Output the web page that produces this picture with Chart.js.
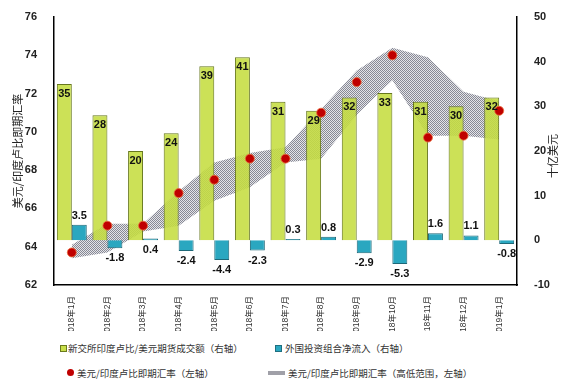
<!DOCTYPE html>
<html>
<head>
<meta charset="utf-8">
<script src="https://cdn.jsdelivr.net/npm/chart.js@4.4.1/dist/chart.umd.min.js"></script>
<style>
  body { margin: 0; background: #fff; }
  #wrap { position: relative; width: 568px; height: 386px; }
  #legend { position: absolute; left: 0; top: 331px; width: 568px; height: 55px; background: #fff;
            font: 9.5px "Noto Sans CJK SC", sans-serif; color: #333; }
  .txt { position: absolute; white-space: nowrap; line-height: 12px; }
  .sw { position: absolute; }
</style>
</head>
<body>
<div id="wrap">
  <canvas id="chart" width="568" height="386"></canvas>
  <div id="legend">
    <div class="sw" style="left:60px;top:14px;width:5px;height:5px;background:#c8de48;border:1px solid #6b7a1e"></div>
    <div class="txt" style="left:68px;top:11px">新交所印度卢比/美元期货成交额（右轴）</div>
    <div class="sw" style="left:275px;top:14px;width:5px;height:5px;background:#2aa7c0;border:1px solid #1f6f80"></div>
    <div class="txt" style="left:285px;top:11px">外国投资组合净流入（右轴）</div>
    <div class="sw" style="left:67px;top:38px;width:7px;height:7px;border-radius:50%;background:#c00000"></div>
    <div class="txt" style="left:77px;top:36px">美元/印度卢比即期汇率（左轴）</div>
    <div class="sw" style="left:268px;top:40px;width:17px;height:4px;background:#a0a0a8"></div>
    <div class="txt" style="left:288px;top:36px">美元/印度卢比即期汇率（高低范围，左轴）</div>
  </div>
</div>
<script>
// Data
const months = ['2018年1月', '2018年2月', '2018年3月', '2018年4月', '2018年5月', '2018年6月',
  '2018年7月', '2018年8月', '2018年9月', '2018年10月', '2018年11月', '2018年12月', '2019年1月'];
const futuresVolume = [35, 28, 20, 24, 39, 41, 31, 29, 32, 33, 31, 30, 32];
const portfolioFlows = [3.5, -1.8, 0.4, -2.4, -4.4, -2.3, 0.3, 0.8, -2.9, -5.3, 1.6, 1.1, -0.8];
const spotRate = [63.7, 65.1, 65.1, 66.8, 67.5, 68.6, 68.6, 71.0, 72.6, 74.0, 69.7, 69.8, 71.1];
const rangeHigh = [64.1, 65.2, 65.2, 66.9, 68.4, 68.9, 69.2, 71.2, 73.2, 74.4, 73.9, 72.1, 71.6];
const rangeLow = [63.4, 63.7, 64.8, 65.1, 66.4, 67.1, 68.4, 68.6, 70.9, 72.7, 69.8, 69.8, 69.6];

const numFont = '"Liberation Sans", Arial, sans-serif';
const cjkFont = '"Liberation Sans", "Noto Sans CJK SC", sans-serif';

// checkered fill for the high/low band
function makePattern() {
    const c = document.createElement('canvas');
    c.width = 2; c.height = 2;
    const g = c.getContext('2d');
    g.fillStyle = '#e4e4e8'; g.fillRect(0, 0, 2, 2);
    g.fillStyle = '#878995'; g.fillRect(0, 0, 1, 1); g.fillRect(1, 1, 1, 1);
    return g.createPattern(c, 'repeat');
}

// value labels on the bars
const barLabels = {
    id: 'barLabels',
    afterDatasetsDraw(chart) {
        const ctx = chart.ctx;
        ctx.save();
        ctx.font = 'bold 11px ' + numFont;
        ctx.fillStyle = '#111';
        ctx.textAlign = 'center';
        ctx.textBaseline = 'middle';
        chart.getDatasetMeta(0).data.forEach((bar, i) => {
            ctx.fillText(futuresVolume[i], bar.x, bar.y + 10);
        });
        chart.getDatasetMeta(1).data.forEach((bar, i) => {
            const v = portfolioFlows[i];
            // the 0.4 label sits under the axis in the original
            const below = v < 0 || i === 2;
            const y = below ? Math.max(bar.y, bar.base) + 10 : bar.y - 9;
            ctx.fillText(v.toFixed(1), bar.x, y);
        });
        ctx.restore();
    }
};

// axis titles, both reading bottom to top
const axisTitles = {
    id: 'axisTitles',
    afterDraw(chart) {
        const ctx = chart.ctx;
        ctx.save();
        ctx.font = '11px "Noto Sans CJK SC", sans-serif';
        ctx.fillStyle = '#222';
        ctx.textAlign = 'center';
        ctx.textBaseline = 'middle';
        ctx.translate(18, 151);
        ctx.rotate(-Math.PI / 2);
        ctx.fillText('美元/印度卢比即期汇率', 0, 0);
        ctx.restore();
        ctx.save();
        ctx.font = '11px "Noto Sans CJK SC", sans-serif';
        ctx.fillStyle = '#222';
        ctx.textAlign = 'center';
        ctx.textBaseline = 'middle';
        ctx.translate(553, 156);
        ctx.rotate(-Math.PI / 2);
        ctx.fillText('十亿美元', 0, 0);
        ctx.restore();
    }
};

const axisBorder = { display: true, color: '#000', width: 1.5 };

new Chart(document.getElementById('chart'), {
    type: 'bar',
    data: {
        labels: months,
        datasets: [
            {
                label: '新交所印度卢比/美元期货成交额（右轴）',
                data: futuresVolume,
                yAxisID: 'y1',
                backgroundColor: 'rgba(197,221,64,0.88)',
                borderColor: '#66771c',
                borderWidth: 1,
                order: 2
            },
            {
                label: '外国投资组合净流入（右轴）',
                data: portfolioFlows,
                yAxisID: 'y1',
                backgroundColor: '#2aa7c0',
                borderColor: '#1d6878',
                borderWidth: 1,
                order: 2
            },
            {
                type: 'line',
                label: '美元/印度卢比即期汇率（左轴）',
                data: spotRate,
                yAxisID: 'y',
                showLine: false,
                pointRadius: 4.5,
                pointBackgroundColor: '#c00000',
                pointBorderColor: 'rgba(235,110,60,0.8)',
                pointBorderWidth: 1,
                order: 0
            },
            {
                type: 'line',
                label: '高',
                data: rangeHigh,
                yAxisID: 'y',
                fill: '+1',
                backgroundColor: makePattern(),
                borderWidth: 0,
                pointRadius: 0,
                tension: 0,
                order: 3
            },
            {
                type: 'line',
                label: '低',
                data: rangeLow,
                yAxisID: 'y',
                fill: false,
                borderWidth: 0,
                pointRadius: 0,
                tension: 0,
                order: 3
            }
        ]
    },
    options: {
        responsive: false,
        animation: false,
        datasets: { bar: { categoryPercentage: 0.84, barPercentage: 1.0 } },
        layout: { padding: { top: 17, left: 0, right: 0, bottom: 0 } },
        plugins: { legend: { display: false }, tooltip: { enabled: false } },
        scales: {
            x: {
                grid: { display: false },
                border: axisBorder,
                ticks: { minRotation: 90, maxRotation: 90, padding: 3, color: '#333',
                         font: { size: 8.5, family: cjkFont } },
                afterFit: s => { s.height = 101; }
            },
            y: {
                position: 'left',
                min: 62, max: 76,
                grid: { display: false },
                border: axisBorder,
                ticks: { stepSize: 2, padding: 9, color: '#222',
                         font: { size: 11, weight: 'bold', family: numFont } },
                afterFit: s => { s.width = 54; }
            },
            y1: {
                position: 'right',
                min: -10, max: 50,
                grid: { display: false },
                border: axisBorder,
                ticks: { stepSize: 10, padding: 9, color: '#222',
                         font: { size: 11, weight: 'bold', family: numFont } },
                afterFit: s => { s.width = 51; }
            }
        }
    },
    plugins: [barLabels, axisTitles]
});
</script>
</body>
</html>
